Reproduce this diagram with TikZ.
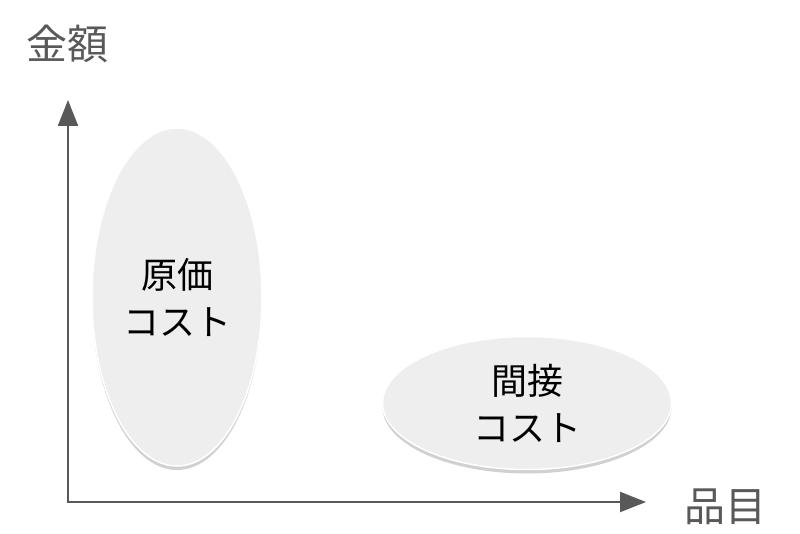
\documentclass[tikz,border=0pt]{standalone}
\usepackage{fontspec}
\newfontfamily\cjk{Noto Sans CJK JP}
\usetikzlibrary{shadows,arrows.meta,shapes.geometric}
\definecolor{axisgray}{HTML}{595959}
\definecolor{blobfill}{HTML}{EEEEEE}
\begin{document}
\begin{tikzpicture}[x=1pt,y=-1pt,
  axis/.style={draw=axisgray,line width=2.2pt,-{Triangle[length=26pt,width=20pt]}},
  axislabel/.style={text=axisgray,font=\cjk\fontsize{41}{45}\selectfont,inner sep=0pt},
  blob/.style={ellipse,fill=blobfill,draw=white,line width=1.5pt,
    drop shadow={shadow xshift=0pt,shadow yshift=-4pt,opacity=0.3,fill=black!60},
    align=center,font=\cjk\fontsize{36}{47}\selectfont,text=black,inner sep=0pt}]
\useasboundingbox (0,0) rectangle (800,534);
\coordinate (origin) at (68,502);
\coordinate (ytip) at (68,100);
\coordinate (xtip) at (646,502);
\draw[axis] (origin) -- (ytip);
\draw[axis] ([xshift=-1.1pt]origin) -- (xtip);
\node[axislabel] (ylab) at (67,44) {金額};
\node[axislabel] (xlab) at (725,507) {品目};
\node[blob,minimum width=170pt,minimum height=338pt] (genka) at (177,297) {原価\\コスト};
\node[blob,minimum width=289pt,minimum height=133pt] (kansetsu) at (527,403) {間接\\コスト};
\end{tikzpicture}
\end{document}
